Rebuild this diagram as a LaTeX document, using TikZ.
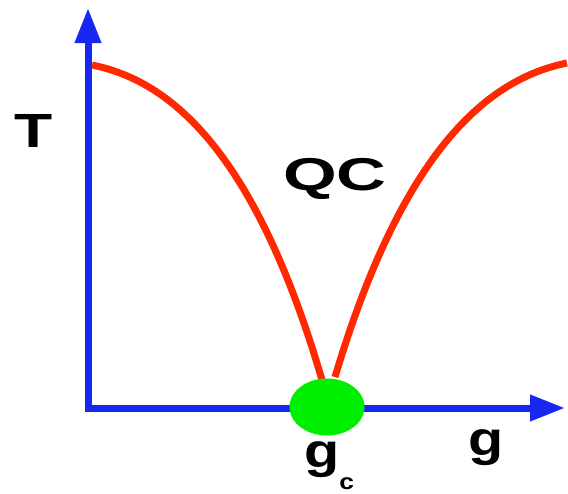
\documentclass[tikz,border=0pt]{standalone}
\usepackage{fontspec}
\setmainfont{Liberation Sans}
\usetikzlibrary{arrows.meta,shapes.geometric}
\definecolor{axisblue}{RGB}{24,40,240}
\definecolor{curvered}{RGB}{255,40,0}
\definecolor{dotgreen}{RGB}{0,238,0}
\tikzset{
  axis/.style={draw=axisblue,line width=7pt,-{Triangle[length=35pt,width=25pt]}},
  phase/.style={draw=curvered,line width=7pt},
  lbl/.style={font=\fontsize{48}{48}\selectfont\bfseries,inner sep=0pt}
}
\begin{document}
\begin{tikzpicture}[x=1pt,y=-1pt]
\useasboundingbox (0,0) rectangle (568,493);
\coordinate (corner) at (88,408);
\coordinate (ybot) at (88,411.5);
\coordinate (xleft) at (84.5,408);
\coordinate (ytip) at (88,8);
\coordinate (xtip) at (565,408);
\draw[axis] (ybot) -- (ytip);
\draw[axis] (xleft) -- (xtip);
\coordinate (lt) at (92,65);
\coordinate (lb) at (322,380);
\coordinate (rt) at (567,63);
\coordinate (rb) at (335,377);
\draw[phase] (lt) .. controls (166,80) and (253,144) .. (lb);
\draw[phase] (rt) .. controls (493,78) and (405,142) .. (rb);
\node[ellipse,fill=dotgreen,minimum width=75pt,minimum height=57pt,inner sep=0pt] (dot) at (327,407) {};
\node[lbl] (T) at (34,131) {\scalebox{1.3}[1]{T}};
\node[lbl,font=\fontsize{46}{46}\selectfont\bfseries] (QC) at (335,179) {\scalebox{1.5}[1]{QC}};
\node[lbl,anchor=base] (g) at (486,455) {\scalebox{1.2}[1]{g}};
\node[lbl,anchor=base west] (gc) at (304,467) {\scalebox{1.2}[1]{g}\raisebox{-22pt}{\fontsize{22}{22}\selectfont\bfseries\scalebox{1.2}[1]{c}}};
\end{tikzpicture}
\end{document}
